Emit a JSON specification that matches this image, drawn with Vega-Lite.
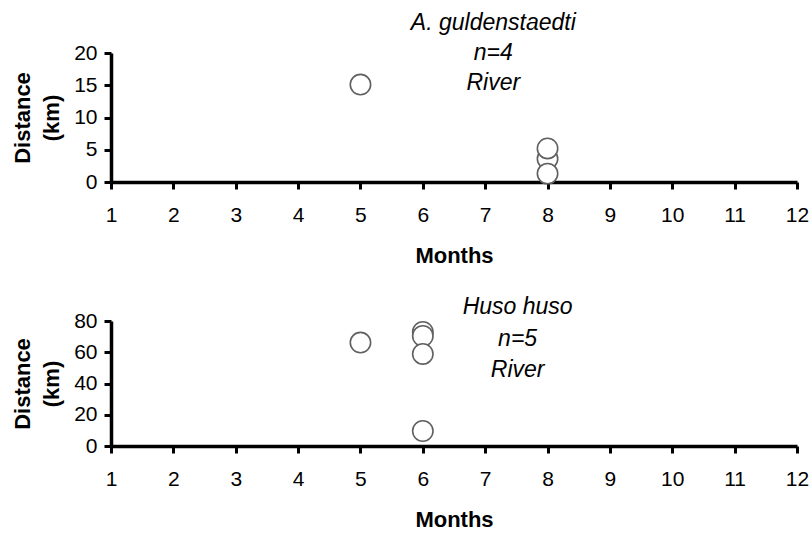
{
  "$schema": "https://vega.github.io/schema/vega-lite/v6.json",
  "padding": {"left": 11, "top": 12, "right": 0, "bottom": 0},
  "spacing": 30,
  "background": "white",
  "datasets": {
    "gul": [
      {"month": 5, "distance": 15.1},
      {"month": 8, "distance": 3.6},
      {"month": 8, "distance": 5.2},
      {"month": 8, "distance": 1.3}
    ],
    "huso": [
      {"month": 5, "distance": 66.2},
      {"month": 6, "distance": 73},
      {"month": 6, "distance": 70.4},
      {"month": 6, "distance": 58.9},
      {"month": 6, "distance": 9.6}
    ],
    "gulLabel": [{"month": 7.13, "distance": 23.5, "label": ["A. guldenstaedti", "n=4", "River"]}],
    "husoLabel": [{"month": 7.52, "distance": 84.3, "label": ["Huso huso", "n=5", "River"]}]
  },
  "vconcat": [
    {
      "width": 686,
      "height": 129,
      "encoding": {
        "x": {"field": "month", "type": "quantitative", "scale": {"domain": [1, 12], "nice": false, "zero": false}, "axis": {"values": [1,2,3,4,5,6,7,8,9,10,11,12], "format": "d", "labelOverlap": false, "title": "Months"}},
        "y": {"field": "distance", "type": "quantitative", "scale": {"domain": [0, 20], "nice": false}, "axis": {"values": [0,5,10,15,20], "format": "d", "labelOverlap": false, "title": ["Distance", "(km)"]}}
      },
      "layer": [
        {
          "data": {"name": "gul"},
          "mark": {"type": "point", "shape": "circle", "size": 415, "filled": false, "fill": "white", "fillOpacity": 1, "stroke": "#606060", "strokeWidth": 1.6, "opacity": 1}
        },
        {
          "data": {"name": "gulLabel"},
          "mark": {"type": "text", "font": "Liberation Sans", "fontSize": 23, "fontStyle": "italic", "lineHeight": 29.7, "align": "center", "baseline": "alphabetic", "color": "black"},
          "encoding": {"text": {"field": "label"}}
        }
      ]
    },
    {
      "width": 686,
      "height": 125,
      "encoding": {
        "x": {"field": "month", "type": "quantitative", "scale": {"domain": [1, 12], "nice": false, "zero": false}, "axis": {"values": [1,2,3,4,5,6,7,8,9,10,11,12], "format": "d", "labelOverlap": false, "title": "Months"}},
        "y": {"field": "distance", "type": "quantitative", "scale": {"domain": [0, 80], "nice": false}, "axis": {"values": [0,20,40,60,80], "format": "d", "labelOverlap": false, "title": ["Distance", "(km)"]}}
      },
      "layer": [
        {
          "data": {"name": "huso"},
          "mark": {"type": "point", "shape": "circle", "size": 415, "filled": false, "fill": "white", "fillOpacity": 1, "stroke": "#606060", "strokeWidth": 1.6, "opacity": 1}
        },
        {
          "data": {"name": "husoLabel"},
          "mark": {"type": "text", "font": "Liberation Sans", "fontSize": 23, "fontStyle": "italic", "lineHeight": 31.6, "align": "center", "baseline": "alphabetic", "color": "black"},
          "encoding": {"text": {"field": "label"}}
        }
      ]
    }
  ],
  "config": {
    "view": {"stroke": null},
    "axis": {
      "grid": false,
      "domainColor": "black",
      "domainWidth": 3.5,
      "tickColor": "black",
      "tickWidth": 3,
      "tickSize": 7,
      "labelFont": "Liberation Sans",
      "labelFontSize": 21,
      "labelColor": "black",
      "labelFlush": false,
      "labelOverlap": false,
      "titleFont": "Liberation Sans",
      "titleFontSize": 22,
      "titleFontWeight": "bold",
      "titleColor": "black"
    },
    "axisX": {"labelPadding": 15, "titlePadding": 20},
    "axisY": {"labelPadding": 7, "titlePadding": 10, "titleLineHeight": 29}
  }
}
